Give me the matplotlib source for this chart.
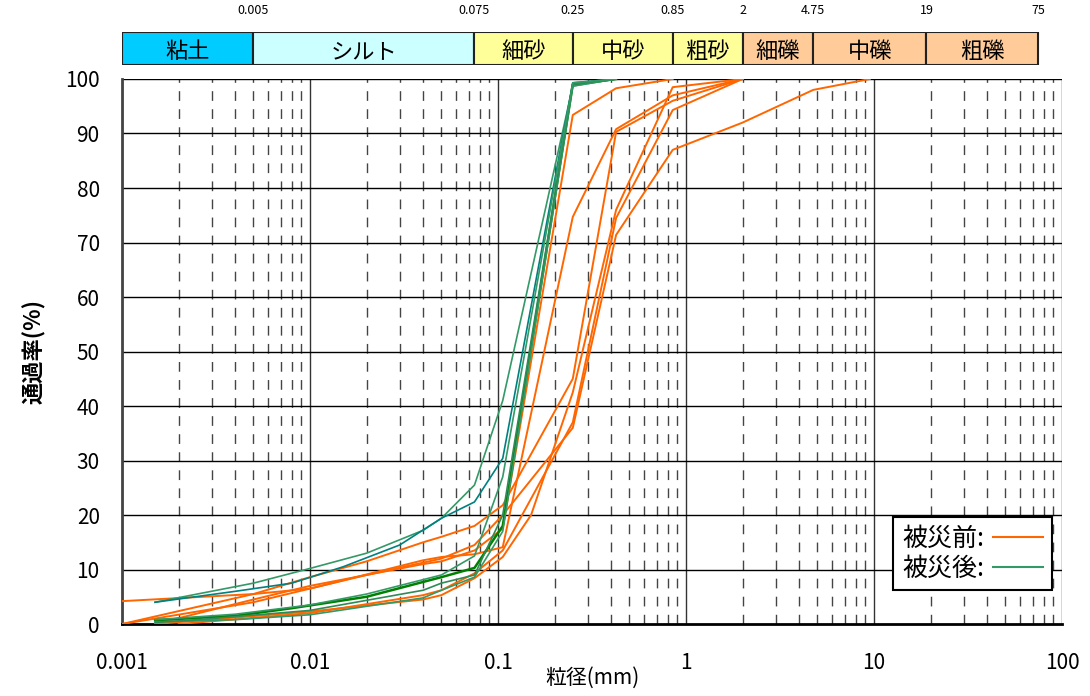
import numpy as np
import matplotlib
matplotlib.use("Agg")
import matplotlib.pyplot as plt
from matplotlib.patches import Rectangle
from matplotlib.lines import Line2D

plt.rcParams['font.family'] = ['Noto Sans CJK JP', 'DejaVu Sans']

# soil classification band
band_edges = [0.001, 0.005, 0.075, 0.25, 0.85, 2, 4.75, 19, 75]
band_names = ["粘土", "シルト", "細砂", "中砂", "粗砂", "細礫", "中礫", "粗礫"]
band_colors = ["#00CCFF", "#CCFFFF", "#FFFF99", "#FFFF99", "#FFFF99",
               "#FFCC99", "#FFCC99", "#FFCC99"]
edge_labels = ["0.005", "0.075", "0.25", "0.85", "2", "4.75", "19", "75"]

# grain size curves before the disaster (particle size mm, percent passing)
pre_a_d = [0.85, 0.425, 0.25, 0.106, 0.075, 0.05, 0.04, 0.02, 0.01, 0.005, 0.001]
pre_a_p = [100, 98.3, 93.4, 17.5, 13.5, 11.5, 11.0, 9.0, 6.5, 4.0, 0]
pre_b_d = [2, 0.85, 0.425, 0.25, 0.106, 0.075, 0.05, 0.04, 0.01, 0.005, 0.001]
pre_b_p = [100, 97, 90.8, 74.7, 14.1, 12.8, 12.3, 11.7, 6.5, 5.5, 4.2]
pre_c_d = [2, 0.85, 0.425, 0.25, 0.106, 0.075, 0.05, 0.04, 0.02, 0.01, 0.005, 0.001]
pre_c_p = [100, 96, 90.3, 45, 21.8, 18.0, 16.0, 15.0, 11.5, 8.6, 5.5, 0]
pre_d_d = [2, 0.85, 0.425, 0.25, 0.15, 0.106, 0.075, 0.05, 0.04, 0.01, 0.0015]
pre_d_p = [100, 98.5, 76, 42.5, 20, 12.3, 8.4, 5.3, 4.5, 2.3, 0]
pre_e_d = [2, 0.85, 0.425, 0.25, 0.106, 0.075, 0.05, 0.04, 0.01, 0.002]
pre_e_p = [100, 94.3, 74.5, 37, 13.5, 9.3, 6.2, 5.3, 2.0, 0]
pre_g_d = [9.5, 4.75, 2, 0.85, 0.425, 0.25, 0.106, 0.075, 0.05, 0.02, 0.01, 0.005, 0.0015]
pre_g_p = [100, 98, 92, 87, 71.4, 36, 20, 14.5, 12.0, 9.0, 7.0, 4.5, 0]

# grain size curves after the disaster
post_a_d = [0.425, 0.25, 0.106, 0.075, 0.05, 0.04, 0.02, 0.01, 0.005, 0.0015]
post_a_p = [100, 98.7, 41, 25.5, 19.4, 17.2, 13.0, 10.2, 7.5, 4.0]
post_b_d = [0.425, 0.25, 0.106, 0.075, 0.05, 0.03, 0.015, 0.008, 0.004, 0.0015]
post_b_p = [100, 99.3, 30.4, 22.4, 19.4, 14.5, 10.5, 7.5, 6.0, 4.0]
post_c_d = [0.425, 0.25, 0.106, 0.075, 0.05, 0.02, 0.008, 0.004, 0.0015]
post_c_p = [100, 99.0, 18.0, 10.3, 8.6, 5.0, 2.9, 1.5, 0.7]
post_d_d = [0.425, 0.25, 0.106, 0.075, 0.05, 0.04, 0.01, 0.004, 0.0015]
post_d_p = [100, 98.7, 17.0, 8.6, 6.2, 4.8, 1.7, 0.8, 0.4]
post_e_d = [0.425, 0.25, 0.106, 0.075, 0.05, 0.04, 0.01, 0.003, 0.0015]
post_e_p = [100, 99.0, 20.0, 9.0, 7.5, 6.2, 2.5, 1.0, 0.3]
post_f_d = [0.425, 0.25, 0.106, 0.075, 0.05, 0.02, 0.01, 0.004, 0.0015]
post_f_p = [100, 99.3, 27.0, 12.5, 9.0, 5.5, 3.5, 1.8, 0.8]

pre_curves = [(pre_a_d, pre_a_p), (pre_b_d, pre_b_p), (pre_c_d, pre_c_p),
              (pre_d_d, pre_d_p), (pre_e_d, pre_e_p), (pre_g_d, pre_g_p)]
post_curves = [(post_a_d, post_a_p, "#339966", 1.2), (post_b_d, post_b_p, "#008080", 1.2),
               (post_c_d, post_c_p, "#008000", 1.8), (post_d_d, post_d_p, "#339966", 1.2),
               (post_e_d, post_e_p, "#2E8B57", 1.2), (post_f_d, post_f_p, "#339966", 1.2)]

orange = "#FF6600"

fig = plt.figure(figsize=(10.9, 6.96), dpi=100)
ax = fig.add_axes([0.1119, 0.1034, 0.8624, 0.7831])
band = fig.add_axes([0.1119, 0.9066, 0.8624, 0.0474], sharex=ax)

# grid
for d in [0.001, 0.01, 0.1, 1, 10, 100]:
    ax.axvline(d, color="#333333", lw=1.0, zorder=1)
for dec in [0.001, 0.01, 0.1, 1, 10]:
    for m in range(2, 10):
        ax.axvline(dec * m, color="#444444", lw=1.0, ls=(0, (7, 6)), zorder=1)
for y in range(10, 101, 10):
    ax.axhline(y, color="black", lw=1.0, zorder=1)

for d, p in pre_curves:
    ax.plot(d, p, color=orange, lw=1.4, zorder=3)
for d, p, c, w in post_curves:
    ax.plot(d, p, color=c, lw=w, zorder=3)

ax.set_xscale("log")
ax.set_xlim(0.001, 100)
ax.set_ylim(0, 100)
ax.set_yticks(range(0, 101, 10))
ax.set_xticks([0.001, 0.01, 0.1, 1, 10, 100])
ax.set_xticklabels(["0.001", "0.01", "0.1", "1", "10", "100"])
ax.minorticks_off()
ax.tick_params(length=0, labelsize=15)
ax.tick_params(axis="x", pad=20)
ax.tick_params(axis="y", pad=16)
ax.set_xlabel("粒径(mm)", fontsize=15, labelpad=-5)
ax.set_ylabel("通過率(%)", fontsize=16, fontweight="bold", labelpad=14)
for s in ["top", "right"]:
    ax.spines[s].set_visible(False)
ax.spines["left"].set_color("#444444")
ax.spines["left"].set_linewidth(2)
ax.spines["bottom"].set_linewidth(2)

handles = [Line2D([], [], color=orange, lw=1.5), Line2D([], [], color="#339966", lw=1.5)]
leg = ax.legend(handles, ["被災前:", "被災後:"], loc="lower right", bbox_to_anchor=(0.989, 0.062),
                markerfirst=False, fontsize=18, handlelength=2.0, handletextpad=0.35,
                fancybox=False, edgecolor="black", framealpha=1, borderpad=0.35,
                labelspacing=0.15, borderaxespad=0)
leg.get_frame().set_linewidth(1.5)

# classification band
for i, name in enumerate(band_names):
    x0, x1 = band_edges[i], band_edges[i + 1]
    band.add_patch(Rectangle((x0, 0), x1 - x0, 1, facecolor=band_colors[i],
                             edgecolor="#222222", lw=1.5))
    band.text(np.sqrt(x0 * x1), 0.42, name, ha="center", va="center", fontsize=16)
for x, lab in zip(band_edges[1:], edge_labels):
    band.text(x, 1.45, lab, ha="center", va="bottom", fontsize=9)
band.set_ylim(0, 1)
band.axis("off")

fig.savefig("out.png", dpi=100)
